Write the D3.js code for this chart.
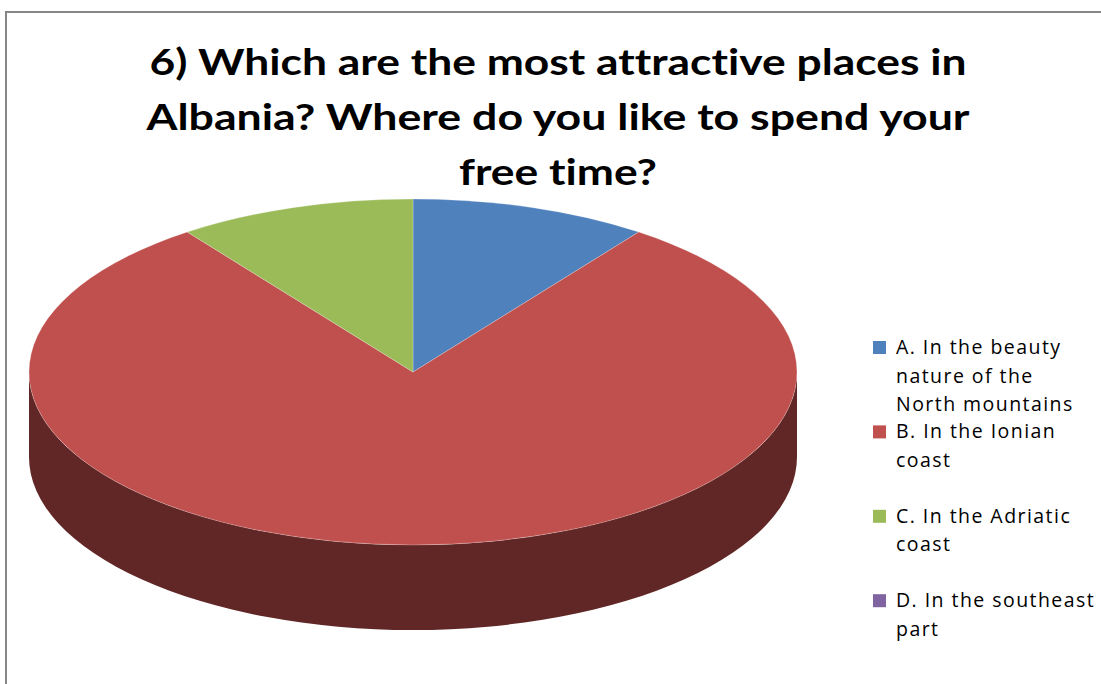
<!DOCTYPE html>
<html>
<head>
<meta charset="utf-8">
<script src="https://cdn.jsdelivr.net/npm/d3@7"></script>
<style>
  html, body { margin: 0; padding: 0; background: #fff; }
  svg { display: block; }
  text { font-variant-ligatures: none; font-feature-settings: "liga" 0; }
</style>
</head>
<body>
<svg id="chart" width="1101" height="684"></svg>
<script>
// Survey question 6: preferred places to spend free time in Albania (percent of answers)
const titleLines = [
  "6) Which are the most attractive places in",
  "Albania? Where do you like to spend your",
  "free time?"
];
const titleWidths = [817, 823, 198];
const categories = ["A", "B", "C", "D"];
const legendLines = [
  ["A. In the beauty", "nature of the", "North mountains"],
  ["B. In the Ionian", "coast"],
  ["C. In the Adriatic", "coast"],
  ["D. In the southeast", "part"]
];
const shares = [10, 80, 10, 0];
const topColors = ["#4F81BD", "#C0504D", "#9BBB59", "#8064A2"];
const sideColors = ["#2A4566", "#612726", "#4E5F2C", "#413353"];

const svg = d3.select("#chart");

// chart frame (continues past the right and bottom edges)
svg.append("rect")
  .attr("x", 6).attr("y", 12)
  .attr("width", 1200).attr("height", 1000)
  .attr("fill", "#fff")
  .attr("stroke", "#868686")
  .attr("stroke-width", 2);

// title, stretched to the wide bold face of the original chart font
svg.append("g").selectAll("text")
  .data(titleLines)
  .join("text")
  .attr("x", (d, i) => 558 - titleWidths[i] / 2)
  .attr("y", (d, i) => 75 + i * 55)
  .attr("textLength", (d, i) => titleWidths[i])
  .attr("lengthAdjust", "spacingAndGlyphs")
  .attr("font-family", "Lato, 'Open Sans', sans-serif")
  .attr("font-weight", 700)
  .attr("font-size", 36)
  .attr("fill", "#000")
  .text(d => d);

// 3D pie geometry
const cx = 413, cy = 372, rx = 384, ry = 173, depth = 85;
const pie = d3.pie().sort(null).value(d => d);
const arcs = pie(shares);

const pt = (a, dy) => [cx + rx * Math.sin(a), cy - ry * Math.cos(a) + dy];

// visible side walls (front half of the ellipse)
const sides = svg.append("g");
arcs.forEach((d, i) => {
  const s = Math.max(d.startAngle, Math.PI / 2);
  const e = Math.min(d.endAngle, 3 * Math.PI / 2);
  if (e <= s) return;
  const [x0, y0] = pt(s, 0), [x1, y1] = pt(e, 0);
  const [x2, y2] = pt(e, depth), [x3, y3] = pt(s, depth);
  const p = `M${x0},${y0} A${rx},${ry} 0 0 1 ${x1},${y1} L${x2},${y2} A${rx},${ry} 0 0 0 ${x3},${y3} Z`;
  sides.append("path").attr("d", p).attr("fill", sideColors[i]);
});

// top faces
const arcGen = d3.arc().innerRadius(0).outerRadius(rx);
svg.append("g")
  .attr("transform", `translate(${cx},${cy}) scale(1,${ry / rx})`)
  .selectAll("path")
  .data(arcs.filter(d => d.value > 0))
  .join("path")
  .attr("d", arcGen)
  .attr("fill", d => topColors[d.index])
  .attr("stroke", "#fff")
  .attr("stroke-opacity", 0.3)
  .attr("stroke-width", 0.8)
  .attr("vector-effect", "non-scaling-stroke");

// legend
const legend = svg.append("g");
categories.forEach((c, i) => {
  const base = 354 + i * 84.4;
  legend.append("rect")
    .attr("x", 873).attr("y", base - 13)
    .attr("width", 13).attr("height", 13)
    .attr("fill", topColors[i]);
  legend.append("text")
    .attr("font-family", "'Open Sans', sans-serif")
    .attr("font-size", 19.5)
    .attr("letter-spacing", 1.45)
    .attr("fill", "#000")
    .selectAll("tspan")
    .data(legendLines[i])
    .join("tspan")
    .attr("x", 896)
    .attr("y", (d, j) => base + j * 28.6)
    .text(d => d);
});
</script>
</body>
</html>
